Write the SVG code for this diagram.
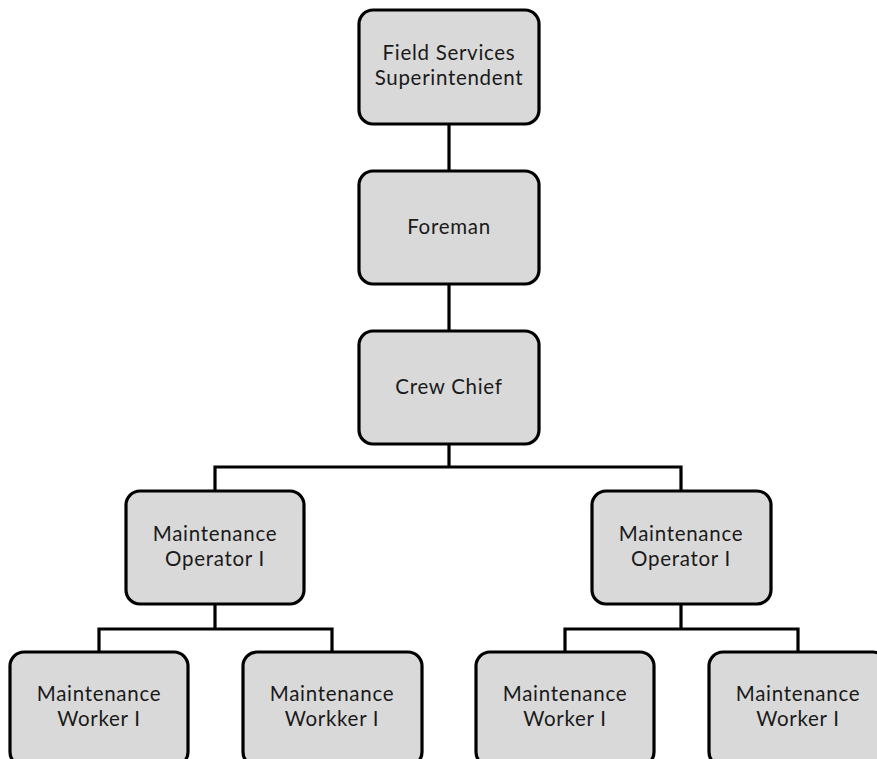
<svg xmlns="http://www.w3.org/2000/svg" width="877" height="759" viewBox="0 0 877 759">
  <style>
    .box { fill: #d9d9d9; stroke: #000; stroke-width: 3.2; }
    .lbl { font-family: Lato, "Open Sans", "Liberation Sans", sans-serif; font-size: 20.5px; letter-spacing: 0.7px; fill: #1a1a1a; text-anchor: middle; }
    .wire { fill: none; stroke: #000; stroke-width: 3.2; stroke-linejoin: miter; }
  </style>
  <rect width="877" height="759" fill="#fff"/>

  <g id="connectors">
    <path class="wire" d="M449 124 V171"/>
    <path class="wire" d="M449 284 V331"/>
    <path class="wire" d="M449 444 V467 M215 491 V467 H681 V491"/>
    <path class="wire" d="M215 604 V629 M99 652 V629 H332 V652"/>
    <path class="wire" d="M681 604 V629 M565 652 V629 H798 V652"/>
  </g>

  <g id="superintendent">
    <rect class="box" x="359" y="10" width="180" height="114" rx="14"/>
    <text class="lbl" x="449" y="60">Field Services</text>
    <text class="lbl" x="449" y="85">Superintendent</text>
  </g>

  <g id="foreman">
    <rect class="box" x="359" y="171" width="180" height="113" rx="14"/>
    <text class="lbl" x="449" y="234">Foreman</text>
  </g>

  <g id="crew-chief">
    <rect class="box" x="359" y="331" width="180" height="113" rx="14"/>
    <text class="lbl" x="449" y="394">Crew Chief</text>
  </g>

  <g id="operator-left">
    <rect class="box" x="126" y="491" width="178" height="113" rx="14"/>
    <text class="lbl" x="215" y="541">Maintenance</text>
    <text class="lbl" x="215" y="566">Operator I</text>
  </g>

  <g id="operator-right">
    <rect class="box" x="592" y="491" width="179" height="113" rx="14"/>
    <text class="lbl" x="681" y="541">Maintenance</text>
    <text class="lbl" x="681" y="566">Operator I</text>
  </g>

  <g id="worker-1">
    <rect class="box" x="10" y="652" width="178" height="114" rx="14"/>
    <text class="lbl" x="99" y="701">Maintenance</text>
    <text class="lbl" x="99" y="726">Worker I</text>
  </g>

  <g id="worker-2">
    <rect class="box" x="243" y="652" width="179" height="114" rx="14"/>
    <text class="lbl" x="332" y="701">Maintenance</text>
    <text class="lbl" x="332" y="726">Workker I</text>
  </g>

  <g id="worker-3">
    <rect class="box" x="476" y="652" width="178" height="114" rx="14"/>
    <text class="lbl" x="565" y="701">Maintenance</text>
    <text class="lbl" x="565" y="726">Worker I</text>
  </g>

  <g id="worker-4">
    <rect class="box" x="709" y="652" width="178" height="114" rx="14"/>
    <text class="lbl" x="798" y="701">Maintenance</text>
    <text class="lbl" x="798" y="726">Worker I</text>
  </g>
</svg>
